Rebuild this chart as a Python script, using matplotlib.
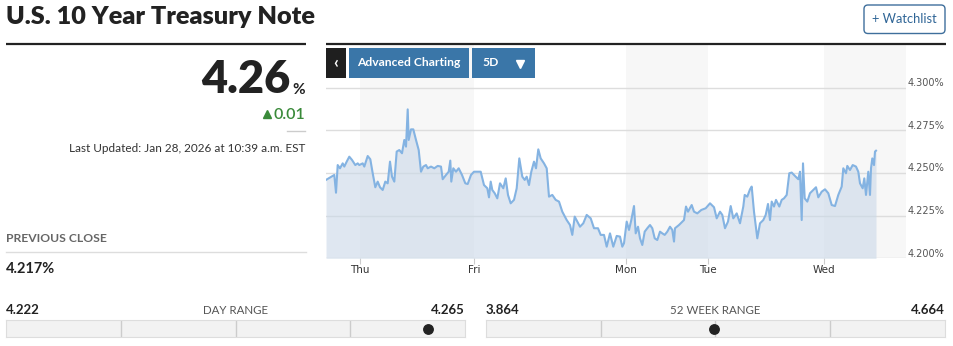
import matplotlib
matplotlib.use("Agg")
import matplotlib.pyplot as plt
from matplotlib.patches import Rectangle, FancyBboxPatch
from matplotlib import transforms

plt.rcParams['font.family'] = ['Lato', 'DejaVu Sans']

# intraday yield, 5 sessions (t = chart time units)
t = [0, 8.3, 10, 11.7, 14, 16.7, 18.3, 20.7, 23.3, 26, 29.3, 31.7, 33.3, 36.7, 38.3,
     41.7, 44.3, 46.7, 49.3, 51.7, 54, 56.7, 59.3, 61.7, 64, 66, 68.3, 70.7, 73.3, 76,
     78.3, 80, 81.7, 82.7, 85, 87.3, 90, 92.7, 95, 97.3, 100, 101.7, 105, 108.3, 111.7,
     115, 116.7, 120, 122.7, 124.3, 125.3, 127.3, 130, 132.7, 136, 139.3, 141.7, 145,
     148, 154.7, 158, 161.3, 163, 164.7, 166.3, 168.7, 171.3, 174, 177.3, 179.7, 182,
     184.7, 188, 190.7, 193.3, 196.3, 198.7, 200.7, 203, 205.3, 208, 210, 212.3, 214.7,
     218, 220.7, 223, 226.3, 229.7, 233, 236.3, 240.7, 244, 246.3, 248.7, 251.3, 254,
     257.3, 260.7, 264.7, 268, 272, 274.7, 278, 280.7, 284, 287.3, 290.7, 294, 296.3,
     298, 300.7, 303, 305.3, 308, 309.7, 312, 314, 316.3, 318.7, 321.3, 324, 326.3,
     328.7, 331.3, 334, 336.3, 338.7, 341.3, 344, 346.3, 348, 349, 353, 358, 360, 362,
     365.7, 368, 371.3, 375.3, 379.7, 384, 388, 390.7, 394, 396.3, 399, 402, 404.7,
     407.3, 410.7, 414, 417.3, 418.7, 421.3, 424, 425.7, 428, 431.3, 434, 437.3, 439.7,
     442, 444,
     445.7, 448, 450, 453.3, 455.7, 458, 460.7, 463.3, 465.7, 469, 472.3, 474, 475.7,
     477, 478.7, 481.3, 484, 487.3, 490, 492.3, 495.7, 499, 502.3, 505.7, 509, 512.3,
     515.7, 517.3, 520, 521.3, 524, 526.7, 530, 532.3, 534, 536.7, 538.3, 540, 542.3,
     544, 545, 546.3, 548, 549, 550]
yld = [4.2459, 4.2488, 4.2384, 4.2546, 4.2527, 4.2556, 4.2537, 4.2566, 4.2595, 4.2576,
       4.2546, 4.2556, 4.2546, 4.2556, 4.2537, 4.2599, 4.2580, 4.2498, 4.2416, 4.2449,
       4.2416, 4.2400, 4.2449, 4.2439, 4.2566, 4.2478, 4.2449, 4.2625, 4.2634, 4.2615,
       4.2693, 4.2654, 4.2872, 4.2693, 4.2755, 4.2755, 4.2693, 4.2634, 4.2507, 4.2537,
       4.2546, 4.2527, 4.2537, 4.2527, 4.2541, 4.2537, 4.2463, 4.2488, 4.2507, 4.2572,
       4.2449, 4.2527, 4.2507, 4.2527, 4.2488, 4.2439, 4.2435, 4.2488,
       4.2507, 4.2507, 4.2429, 4.2410, 4.2357, 4.2449, 4.2400, 4.2381, 4.2351, 4.2439,
       4.2410, 4.2468, 4.2371, 4.2322, 4.2342, 4.2410, 4.2585, 4.2478, 4.2459, 4.2478,
       4.2429, 4.2507, 4.2566, 4.2527, 4.2638, 4.2585, 4.2556, 4.2527, 4.2361, 4.2371,
       4.2342, 4.2332, 4.2273, 4.2224, 4.2195, 4.2137, 4.2244, 4.2215, 4.2185, 4.2205,
       4.2254, 4.2234, 4.2176, 4.2176, 4.2137, 4.2137, 4.2068, 4.2146, 4.2068, 4.2131,
       4.2127, 4.2068,
       4.2088, 4.2215, 4.2166, 4.2224, 4.2306, 4.2146, 4.2185, 4.2117, 4.2078, 4.2156,
       4.2176, 4.2195, 4.2176, 4.2117, 4.2107, 4.2156, 4.2146, 4.2137, 4.2156, 4.2185,
       4.2166, 4.2098, 4.2176, 4.2195, 4.2224, 4.2303, 4.2273, 4.2312, 4.2273, 4.2263,
       4.2283, 4.2293, 4.2322, 4.2299, 4.2234, 4.2273, 4.2254, 4.2176, 4.2215, 4.2306,
       4.2234, 4.2263, 4.2205, 4.2303, 4.2371, 4.2361, 4.2404, 4.2420, 4.2273, 4.2117,
       4.2205, 4.2224, 4.2254, 4.2318, 4.2224,
       4.2332, 4.2303, 4.2342, 4.2303, 4.2342, 4.2351, 4.2371, 4.2498, 4.2502, 4.2482,
       4.2463, 4.2507, 4.2224, 4.2556, 4.2351, 4.2332, 4.2381, 4.2400, 4.2416, 4.2357,
       4.2390, 4.2404, 4.2381, 4.2312, 4.2306, 4.2371, 4.2420, 4.2527, 4.2498, 4.2541,
       4.2517, 4.2546, 4.2537, 4.2507, 4.2439, 4.2410, 4.2468, 4.2371, 4.2507, 4.2371,
       4.2527, 4.2585, 4.2546, 4.2625, 4.2630]

day_names = ["Thu", "Fri", "Mon", "Tue", "Wed"]
day_pos = [34, 148, 300, 382, 498]
t_end = 580

y_ticks = [4.200, 4.225, 4.250, 4.275, 4.300]
y_top = 4.3249

last_price = 4.2615
change = 0.01
prev_close = 4.217
day_low, day_high = 4.222, 4.265
wk_low, wk_high = 3.864, 4.664
updated = "Last Updated: Jan 28, 2026 at 10:39 a.m. EST"

W, H = 954, 346
DARK = "#222222"
BLUE = "#3a76a8"
LINE = "#84b3e2"


def box(x0, y0, x1, y1):
    # pixel box (top-left origin) -> figure fraction
    return [x0 / W, (H - y1) / H, (x1 - x0) / W, (y1 - y0) / H]


fig = plt.figure(figsize=(W / 100, H / 100), dpi=100)

# ---- 5 day chart ----
ax = fig.add_axes(box(326, 45, 906, 258.3))
for i, d in enumerate(day_pos):
    if i % 2 == 0:
        end = day_pos[i + 1] if i + 1 < len(day_pos) else t_end
        ax.axvspan(d, end, color="#f7f7f7", lw=0, zorder=0)
for v in y_ticks:
    ax.axhline(v, color="#dddddd", lw=1, zorder=1)
ax.fill_between(t, yld, y_ticks[0], color="#cad8e8", alpha=0.6, lw=0, zorder=2)
ax.plot(t, yld, color=LINE, lw=1.5, zorder=3)
ax.set_xlim(0, t_end)
ax.set_ylim(y_ticks[0], y_top)
for s in ax.spines.values():
    s.set_visible(False)
ax.set_yticks([])
ax.set_xticks(day_pos)
ax.set_xticklabels(day_names, family="DejaVu Sans", fontsize=7.5, color="#333333")
ax.tick_params(axis="x", length=4, color="#cccccc", pad=1)

lbl_tr = transforms.offset_copy(
    transforms.blended_transform_factory(ax.transAxes, ax.transData),
    fig=fig, x=1.5, y=1.5, units="dots")
for v in y_ticks:
    ax.text(1.0, v, f"{v:.3f}%", transform=lbl_tr, ha="left", va="baseline",
            family="DejaVu Sans", fontsize=7, color="#555555", clip_on=False)

# ---- range bars ----
def range_bar(x0, x1, lo, hi):
    rb = fig.add_axes(box(x0, 320, x1, 336.5))
    rb.set_xlim(lo, hi)
    rb.set_ylim(0, 1)
    rb.set_facecolor("#f2f2f2")
    for s in rb.spines.values():
        s.set_color("#dddddd")
    rb.set_xticks([])
    rb.set_yticks([])
    for k in (1, 2, 3):
        rb.axvline(lo + (hi - lo) * k / 4, color="#cccccc", lw=1)
    rb.plot(last_price, 0.45, "o", ms=6.8, color=DARK, clip_on=False)

range_bar(6, 465, day_low, day_high)
range_bar(486, 945, wk_low, wk_high)

# ---- header / quote panel ----
ov = fig.add_axes([0, 0, 1, 1], zorder=5)
ov.set_xlim(0, W)
ov.set_ylim(H, 0)
ov.axis("off")

ov.text(6, 23.5, "U.S. 10 Year Treasury Note", fontsize=18.2, fontweight="heavy",
        color=DARK, va="baseline")
ov.add_patch(FancyBboxPatch((864, 5), 81, 28.5, boxstyle="round,pad=0,rounding_size=4",
                            fc="white", ec="#3f6f9c", lw=1))
ov.text(904.5, 19, "+ Watchlist", fontsize=9.3, color="#2f6596", ha="center", va="center")

ov.plot([6, 306], [43.7, 43.7], color=DARK, lw=1.6, solid_capstyle="butt")
ov.plot([326, 946], [43.7, 43.7], color=DARK, lw=1.6, solid_capstyle="butt")

ov.text(290.5, 93, f"{last_price:.2f}", fontsize=32.5, fontweight="heavy", color=DARK,
        ha="right", va="baseline")
ov.text(292.5, 93.5, "%", fontsize=11, fontweight="bold", color=DARK, ha="left",
        va="baseline")
ov.plot(267, 114, marker="^", ms=5.8, color="#3a8a3a", lw=0)
ov.text(305, 119, f"{change:.2f}", fontsize=11.5, fontweight="semibold", color="#3a8a3a",
        ha="right", va="baseline")
ov.plot([287, 305], [131, 131], color="#cccccc", lw=1)
ov.text(305, 152, updated, fontsize=8.5, color="#333333", ha="right", va="baseline")

ov.text(6, 242, "PREVIOUS CLOSE", fontsize=8.7, fontweight="bold", color="#666666",
        va="baseline")
ov.plot([6, 306], [252.3, 252.3], color="#dddddd", lw=1)
ov.text(6, 273, f"{prev_close:.3f}%", fontsize=10.5, fontweight="bold", color=DARK,
        va="baseline")

for x0, x1, lo, hi, title in [(6, 465, day_low, day_high, "DAY RANGE"),
                              (486, 945, wk_low, wk_high, "52 WEEK RANGE")]:
    ov.text(x0, 313.5, f"{lo:.3f}", fontsize=9.5, fontweight="bold", color=DARK,
            va="baseline")
    ov.text(x1, 313.5, f"{hi:.3f}", fontsize=9.5, fontweight="bold", color=DARK,
            ha="right", va="baseline")
    ov.text((x0 + x1) / 2, 313.5, title, fontsize=8.3, color="#555555", ha="center",
            va="baseline")

# chart toolbar buttons
ov.add_patch(Rectangle((326, 48), 20, 30, fc="#1f1f1f", lw=0))
ov.text(336, 63, "‹", fontsize=12, fontweight="bold", color="white", ha="center",
        va="center")
ov.add_patch(Rectangle((349, 48), 120, 30, fc=BLUE, lw=0))
ov.text(409, 63, "Advanced Charting", fontsize=8.7, fontweight="bold", color="white",
        ha="center", va="center")
ov.add_patch(Rectangle((472, 48), 63, 30, fc=BLUE, lw=0))
ov.text(482, 63, "5D", fontsize=8.7, fontweight="bold", color="white", ha="left",
        va="center")
ov.plot(520, 63.5, marker="v", ms=6, color="white", lw=0)

fig.savefig("out.png", dpi=100, facecolor="white")
